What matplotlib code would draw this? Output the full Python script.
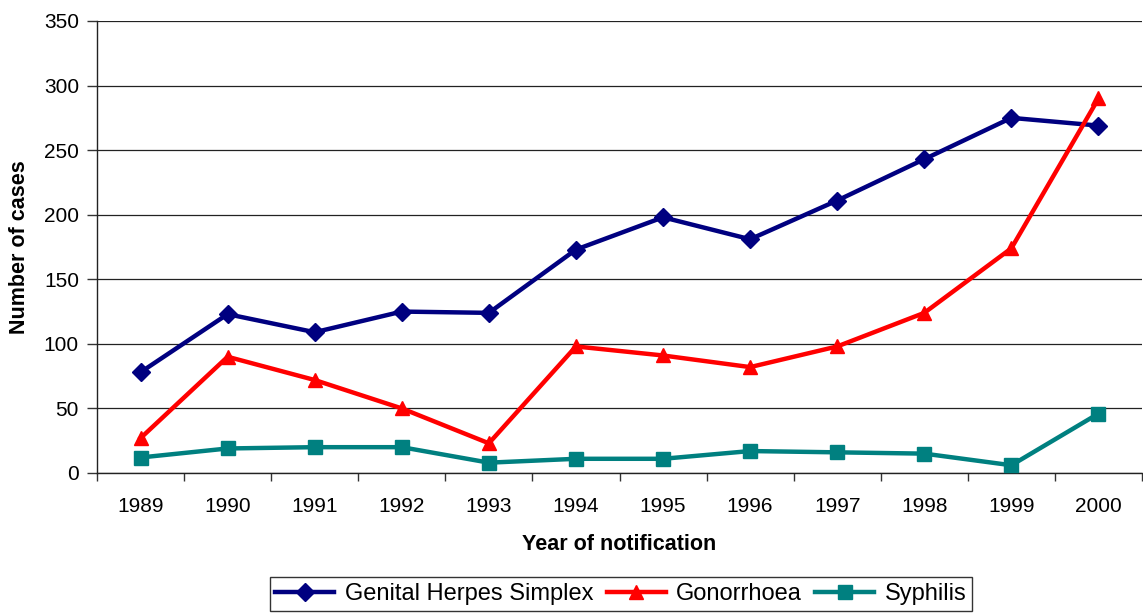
import matplotlib
matplotlib.use("Agg")
import matplotlib.pyplot as plt
import numpy as np

plt.rcParams['font.family'] = ['Liberation Sans', 'DejaVu Sans']

years = ["1989", "1990", "1991", "1992", "1993", "1994", "1995", "1996", "1997", "1998", "1999", "2000"]
herpes = [78, 123, 109, 125, 124, 173, 198, 181, 211, 243, 275, 269]
gonorrhoea = [27, 90, 72, 50, 23, 98, 91, 82, 98, 124, 174, 290]
syphilis = [12, 19, 20, 20, 8, 11, 11, 17, 16, 15, 6, 46]

fig = plt.figure(figsize=(11.43, 6.13), dpi=100)
ax = fig.add_axes([97/1143, 1-473/613, (1142-97)/1143, (473-21)/613])

x = np.arange(len(years))
ax.plot(x, herpes, color='#000080', lw=3.2, marker='D', ms=9, label='Genital Herpes Simplex', zorder=5)
ax.plot(x, gonorrhoea, color='#FF0000', lw=3.2, marker='^', ms=10.5, label='Gonorrhoea', zorder=5)
ax.plot(x, syphilis, color='#008080', lw=3.2, marker='s', ms=9.5, label='Syphilis', zorder=5)

ax.set_xlim(-0.5, len(years) - 0.5)
ax.set_ylim(0, 350)
ax.set_yticks(np.arange(0, 351, 50))
ax.yaxis.grid(True, color='#222222', lw=0.9)
ax.set_axisbelow(True)

ax.set_xticks(x)
ax.set_xticklabels(years)
ax.set_xticks(np.arange(-0.5, len(years)), minor=True)
ax.tick_params(axis='x', which='major', length=0, pad=17, labelsize=15)
ax.tick_params(axis='x', which='minor', length=6, width=1, direction='out', color='#333333')
ax.tick_params(axis='y', length=7, width=1, direction='out', labelsize=15, pad=6, color='#333333')

for s in ['top', 'right']:
    ax.spines[s].set_visible(False)
for s in ['left', 'bottom']:
    ax.spines[s].set_color('#222222')
    ax.spines[s].set_linewidth(1.0)

ax.set_ylabel('Number of cases', fontsize=15.5, fontweight='bold', labelpad=10)
ax.set_xlabel('Year of notification', fontsize=15.5, fontweight='bold', labelpad=13)

leg = fig.legend(loc='center', bbox_to_anchor=(621/1143, 1-594/613), ncol=3, fontsize=17,
                 frameon=True, fancybox=False, edgecolor='black', handlelength=2.5,
                 columnspacing=0.55, handletextpad=0.45, borderpad=0.25, borderaxespad=0)
leg.get_frame().set_linewidth(1.0)

fig.savefig('out.png', dpi=100)
